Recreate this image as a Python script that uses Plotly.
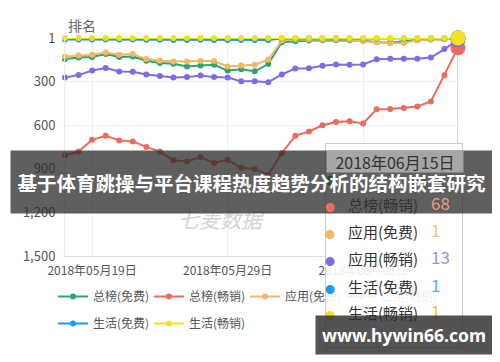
import plotly.graph_objects as go

# ---------------- data ----------------
dates = ["2018-05-17", "2018-05-18", "2018-05-19", "2018-05-20", "2018-05-21", "2018-05-22",
         "2018-05-23", "2018-05-24", "2018-05-25", "2018-05-26", "2018-05-27", "2018-05-28",
         "2018-05-29", "2018-05-30", "2018-05-31", "2018-06-01", "2018-06-02", "2018-06-03",
         "2018-06-04", "2018-06-05", "2018-06-06", "2018-06-07", "2018-06-08", "2018-06-09",
         "2018-06-10", "2018-06-11", "2018-06-12", "2018-06-13", "2018-06-14", "2018-06-15"]

series_names = ["总榜(免费)", "总榜(畅销)", "应用(免费)", "应用(畅销)", "生活(免费)", "生活(畅销)"]

total_free = [146, 135, 132, 111, 132, 128, 157, 173, 178, 197, 190, 185, 225, 216, 230,
              180, 30, 23, 18, 16, 16, 16, 19, 30, 33, 23, 16, 12, 9, 1]
total_paid = [808, 782, 701, 674, 705, 712, 750, 782, 842, 850, 820, 860, 839, 894, 901,
              942, 793, 674, 644, 601, 579, 574, 589, 491, 490, 483, 472, 437, 257, 68]
app_free = [128, 121, 116, 100, 116, 111, 146, 157, 162, 162, 159, 160, 197, 190, 185,
            150, 19, 12, 12, 12, 12, 12, 24, 30, 37, 35, 16, 12, 10, 1]
app_paid = [272, 256, 224, 208, 231, 233, 252, 263, 272, 270, 259, 270, 273, 299, 299,
            305, 252, 210, 209, 192, 183, 185, 183, 147, 144, 144, 144, 135, 77, 13]
life_free = [12, 12, 12, 11, 12, 12, 13, 13, 14, 14, 13, 14, 14, 15, 15,
             14, 5, 4, 3, 3, 3, 3, 4, 5, 5, 4, 3, 2, 2, 1]
life_paid = [1, 1, 1, 1, 1, 1, 1, 1, 1, 1, 1, 1, 1, 1, 1,
             1, 1, 1, 1, 1, 1, 1, 1, 1, 1, 1, 1, 1, 1, 1]

y_tickvals = [1, 300, 600, 900, 1200, 1500]
y_ticktext = ["1", "300", "600", "900", "1,200", "1,500"]
tooltip_date = "2018年06月15日"
banner_text = "基于体育跳操与平台课程热度趋势分析的结构嵌套研究"
site_text = "www.hywin66.com"
watermark_text = "七麦数据"
y_title = "排名"

all_series = [total_free, total_paid, app_free, app_paid, life_free, life_paid]
colors = ["#27a673", "#ec6b5e", "#f4b862", "#7d6be8", "#1f9ae8", "#f3e11e"]
value_colors = ["#6fc3a0", "#f0958c", "#f3c27e", "#9d8ef0", "#4fb0ea", "#d9cc3a"]

# ---------------- layout geometry ----------------
OFF = 8  # page body margin
FW, FH = 492, 354
L, T = 57, 30
PW, PH = 393, 218
R = FW - L - PW
B = FH - T - PH


def px(x):
    """screen x pixel -> paper x"""
    return (x - OFF - L) / PW


def py(y):
    """screen y pixel -> paper y"""
    return (T + PH - (y - OFF)) / PH


FONT = "Noto Sans CJK SC, Noto Sans, sans-serif"

fig = go.Figure()

for i, (name, vals, col) in enumerate(zip(series_names, all_series, colors)):
    fig.add_trace(go.Scatter(
        x=dates, y=vals, name=name, mode="lines+markers",
        line=dict(color=col, width=2),
        marker=dict(color=col, size=6),
        cliponaxis=False,
        legend="legend" if i < 4 else "legend2",
    ))

# highlighted (hovered) points on the last date
for name, vals, col in zip(series_names, all_series, colors):
    fig.add_trace(go.Scatter(
        x=[dates[-1]], y=[vals[-1]], mode="markers", showlegend=False,
        marker=dict(color=col, size=15), cliponaxis=False, hoverinfo="skip",
    ))

annotations = []
# y axis title
annotations.append(dict(text=y_title, xref="paper", yref="paper", x=px(66), y=py(13),
                        showarrow=False, font=dict(size=14, color="#666", family=FONT)))
# watermark
annotations.append(dict(text="<i>" + watermark_text + "</i>", xref="paper", yref="paper",
                        x=px(176), y=py(236), showarrow=False,
                        font=dict(size=21, color="#d3d3d3", family=FONT)))
# tooltip box
annotations.append(dict(text=" ", xref="paper", yref="paper", x=px(325), y=py(143),
                        xanchor="left", yanchor="top", width=136, height=203,
                        bgcolor="rgba(255,255,255,0.9)", bordercolor="#cccccc",
                        borderwidth=1, borderpad=0, showarrow=False))

row_y = [190, 217, 244, 271, 299, 325]
tooltip_vals = [str(v[-1]) for v in all_series]


def tooltip_row(k):
    out = []
    out.append(dict(text="●", xref="paper", yref="paper", x=px(337), y=py(row_y[k]),
                    showarrow=False, font=dict(size=10, color=colors[k], family=FONT)))
    out.append(dict(text=series_names[k], xref="paper", yref="paper", x=px(346), y=py(row_y[k]),
                    xanchor="left", showarrow=False, font=dict(size=15, color="#333", family=FONT)))
    out.append(dict(text=tooltip_vals[k], xref="paper", yref="paper", x=px(429), y=py(row_y[k]),
                    xanchor="left", showarrow=False,
                    font=dict(size=17, color=value_colors[k], family=FONT)))
    return out


# first tooltip row lies under the banner: only its colour dot shows through
annotations.append(dict(text="●", xref="paper", yref="paper", x=px(337), y=py(row_y[0]),
                        showarrow=False, font=dict(size=10, color=colors[0], family=FONT)))
# banner
annotations.append(dict(text="<b>" + banner_text + "</b>", xref="paper", yref="paper",
                        x=px(10), y=py(150), xanchor="left", yanchor="top",
                        width=481, height=62, bgcolor="rgba(45,45,45,0.76)",
                        borderpad=0, showarrow=False,
                        font=dict(size=19.5, color="white", family=FONT)))
# tooltip header (sits over the banner)
annotations.append(dict(text=tooltip_date, xref="paper", yref="paper", x=px(326), y=py(150),
                        xanchor="left", yanchor="top", width=136, height=21,
                        bgcolor="rgba(170,170,170,0.95)", borderpad=0, showarrow=False,
                        font=dict(size=16, color="#333", family=FONT)))
for k in range(1, 6):
    annotations += tooltip_row(k)
# site box
annotations.append(dict(text="<b>" + site_text + "</b>", xref="paper", yref="paper",
                        x=px(315), y=py(315), xanchor="left", yanchor="top",
                        width=176, height=38, bgcolor="rgba(45,45,45,0.82)",
                        borderpad=0, showarrow=False,
                        font=dict(size=17.5, color="white", family="Noto Sans, sans-serif")))

shapes = [dict(type="line", xref="x", yref="paper", x0=dates[-1], x1=dates[-1], y0=0, y1=1,
               line=dict(color="#aaaaaa", width=1), layer="below")]

fig.update_layout(
    width=FW, height=FH, autosize=False,
    margin=dict(l=L, r=R, t=T, b=B),
    paper_bgcolor="white", plot_bgcolor="white",
    font=dict(family=FONT, color="#555"),
    hovermode=False,
    xaxis=dict(type="date", range=[dates[0], dates[-1]], tick0="2018-05-19",
               dtick=10 * 24 * 3600 * 1000, tickformat="%Y年%m月%d日",
               showgrid=True, gridcolor="#eeeeee", gridwidth=1,
               showline=True, linecolor="#e0e0e0", zeroline=False,
               ticklabelstandoff=4,
               tickfont=dict(size=12, color="#555", family=FONT), ticks=""),
    yaxis=dict(range=[1500, 1], tickvals=y_tickvals, ticktext=y_ticktext,
               showgrid=True, gridcolor="#eeeeee", gridwidth=1,
               showline=True, linecolor="#e8e8e8", zeroline=False, ticks="",
               ticklabelstandoff=6,
               tickfont=dict(size=13, color="#555", family=FONT)),
    legend=dict(orientation="h", x=px(53), y=py(282), xanchor="left", yanchor="top",
                entrywidth=51, entrywidthmode="pixels",
                font=dict(size=12, color="#555", family=FONT), bgcolor="rgba(0,0,0,0)"),
    legend2=dict(orientation="h", x=px(53), y=py(309), xanchor="left", yanchor="top",
                 entrywidth=51, entrywidthmode="pixels",
                 font=dict(size=12, color="#555", family=FONT), bgcolor="rgba(0,0,0,0)"),
    annotations=annotations,
    shapes=shapes,
)

fig.write_html("out.html")
